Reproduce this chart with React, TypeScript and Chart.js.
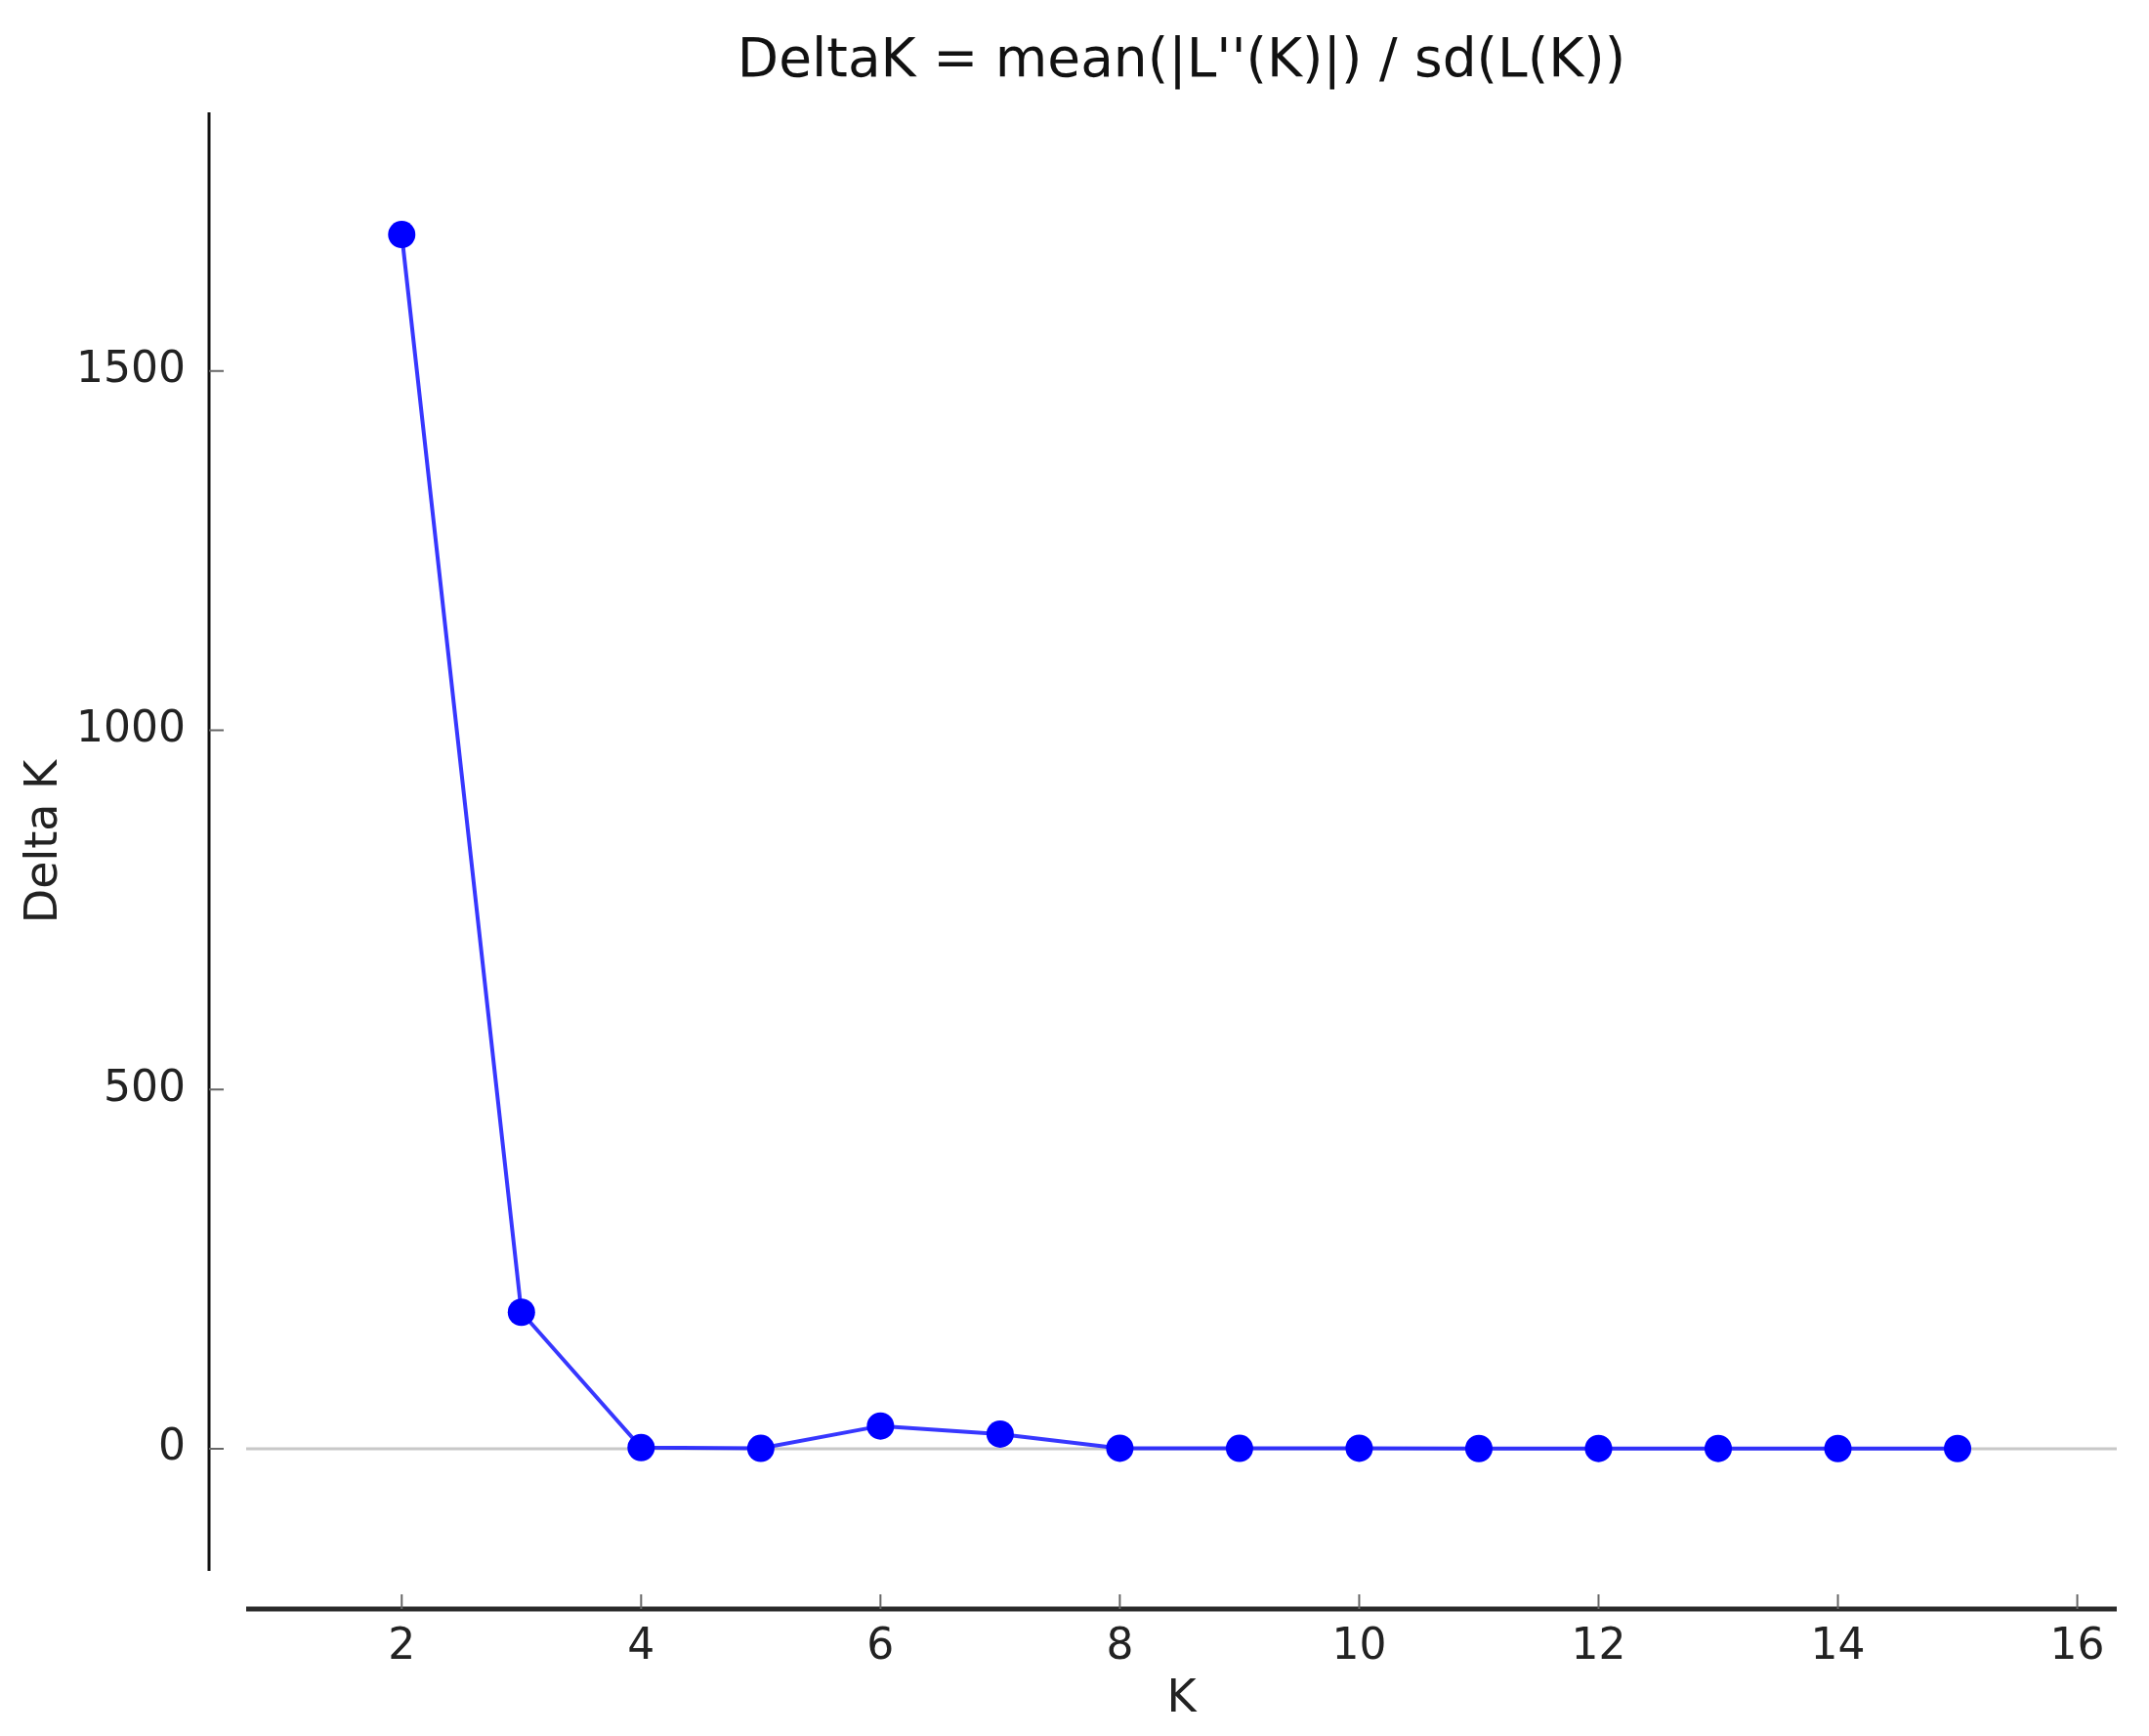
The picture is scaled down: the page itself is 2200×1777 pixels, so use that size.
import React, { useEffect, useRef } from "react";
import { Chart, registerables } from "chart.js";

Chart.register(...registerables);

const kValues = [2, 3, 4, 5, 6, 7, 8, 9, 10, 11, 12, 13, 14, 15];
const deltaK = [1690, 190, 1.5, 0.6, 31.7, 20.5, 0.8, 0.6, 0.7, 0.3, 0.4, 0.4, 0.3, 0.3];
const xTickValues = [2, 4, 6, 8, 10, 12, 14, 16];
const yTickValues = [0, 500, 1000, 1500];
const chartTitle = "DeltaK = mean(|L''(K)|) / sd(L(K))";
const xTitle = "K";
const yTitle = "Delta K";
const xMin = 0.7;
const xMax = 16.33;
const yMin = -170;
const yMax = 1860;

const FONT = "'DejaVu Sans', sans-serif";

const spinePlugin = {
  id: "offsetSpines",
  beforeDatasetsDraw(chart: any) {
    const { ctx, chartArea, scales } = chart;
    const y0 = scales.y.getPixelForValue(0);
    ctx.save();
    ctx.strokeStyle = "#c8c8c8";
    ctx.lineWidth = 3;
    ctx.beginPath();
    ctx.moveTo(chartArea.left, y0);
    ctx.lineTo(chartArea.right, y0);
    ctx.stroke();
    ctx.restore();
  },
  afterDraw(chart: any) {
    const { ctx, chartArea, scales } = chart;
    const ySpineX = chartArea.left - 38;
    const xSpineY = chartArea.bottom + 39;
    ctx.save();
    ctx.strokeStyle = "#111";
    ctx.lineWidth = 3;
    ctx.beginPath();
    ctx.moveTo(ySpineX, chartArea.top);
    ctx.lineTo(ySpineX, chartArea.bottom);
    ctx.stroke();
    ctx.strokeStyle = "#666";
    ctx.lineWidth = 2;
    for (const t of scales.y.ticks) {
      const py = scales.y.getPixelForValue(t.value);
      ctx.beginPath();
      ctx.moveTo(ySpineX, py);
      ctx.lineTo(ySpineX + 15, py);
      ctx.stroke();
    }
    ctx.strokeStyle = "#2a2a2a";
    ctx.lineWidth = 5;
    ctx.beginPath();
    ctx.moveTo(chartArea.left, xSpineY);
    ctx.lineTo(chartArea.right, xSpineY);
    ctx.stroke();
    ctx.strokeStyle = "#666";
    ctx.lineWidth = 2;
    for (const t of scales.x.ticks) {
      const px = scales.x.getPixelForValue(t.value);
      ctx.beginPath();
      ctx.moveTo(px, xSpineY);
      ctx.lineTo(px, xSpineY - 15);
      ctx.stroke();
    }
    ctx.restore();
  },
};

export default function App() {
  const ref = useRef<HTMLCanvasElement | null>(null);
  useEffect(() => {
    document.body.style.margin = "0";
    const canvas = ref.current;
    if (!canvas) return;
    const chart = new Chart(canvas, {
      type: "line",
      data: {
        datasets: [
          {
            label: "DeltaK",
            data: kValues.map((k, i) => ({ x: k, y: deltaK[i] })),
            borderColor: "rgba(20,20,255,0.85)",
            borderWidth: 4,
            pointRadius: 14,
            pointBackgroundColor: "#0000ff",
            pointBorderWidth: 0,
            tension: 0,
            fill: false,
          },
        ],
      },
      options: {
        responsive: false,
        animation: false,
        devicePixelRatio: 1,
        layout: { padding: { left: 0, right: 33, top: 0, bottom: 0 } },
        plugins: {
          legend: { display: false },
          tooltip: { enabled: false },
          title: {
            display: true,
            fullSize: false,
            text: chartTitle,
            color: "#111",
            font: { family: FONT, size: 55, weight: "normal", lineHeight: 1.2 },
            padding: { top: 31, bottom: 18 },
          },
        },
        scales: {
          x: {
            type: "linear",
            min: xMin,
            max: xMax,
            afterFit: (s: any) => {
              s.height = 169;
              s.paddingLeft = 0;
              s.paddingRight = 0;
            },
            afterBuildTicks: (s: any) => {
              s.ticks = xTickValues.map((v) => ({ value: v }));
            },
            grid: { display: false, drawTicks: false },
            border: { display: false },
            ticks: {
              padding: 52,
              color: "#222",
              font: { family: FONT, size: 44 },
              maxRotation: 0,
              autoSkip: false,
              callback: (v: any) => String(v),
            },
            title: {
              display: true,
              text: xTitle,
              color: "#222",
              font: { family: FONT, size: 46, lineHeight: 1.2 },
              padding: { top: 0, bottom: 9 },
            },
          },
          y: {
            type: "linear",
            min: yMin,
            max: yMax,
            afterFit: (s: any) => {
              s.width = 252;
              s.paddingTop = 0;
              s.paddingBottom = 0;
            },
            afterBuildTicks: (s: any) => {
              s.ticks = yTickValues.map((v) => ({ value: v }));
            },
            grid: { display: false, drawTicks: false },
            border: { display: false },
            ticks: {
              padding: 62,
              color: "#222",
              font: { family: FONT, size: 44 },
              autoSkip: false,
              callback: (v: any) => String(v),
            },
            title: {
              display: true,
              text: yTitle,
              color: "#222",
              font: { family: FONT, size: 46, lineHeight: 1.2 },
              padding: { top: 18, bottom: 0 },
            },
          },
        },
      },
      plugins: [spinePlugin],
    });
    return () => chart.destroy();
  }, []);
  return (
    <div style={{ width: 2200, height: 1777, background: "#fff" }}>
      <canvas ref={ref} width={2200} height={1777} style={{ display: "block" }} />
    </div>
  );
}
